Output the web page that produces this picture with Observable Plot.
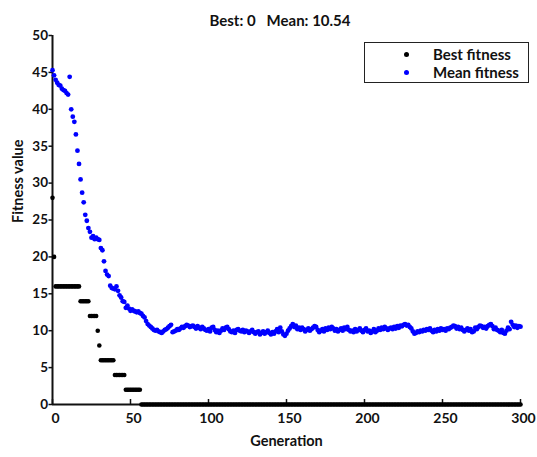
<!DOCTYPE html>
<html>
<head>
<meta charset="utf-8">
<script src="https://cdn.jsdelivr.net/npm/d3@7"></script>
<script src="https://cdn.jsdelivr.net/npm/@observablehq/plot@0.6"></script>
<style>
  html, body { margin: 0; padding: 0; background: #fff; }
  #wrap { position: relative; width: 537px; height: 457px; font-family: Lato, "Open Sans", sans-serif; font-weight: bold; }
  #title { position: absolute; top: 11px; left: 280px; transform: translateX(-50%); font-size: 15px; white-space: pre; color: #111; }
  #legend { position: absolute; left: 364px; top: 42px; width: 163px; height: 39px; border: 1.5px solid #222; background: #fff; font-size: 15px; }
  .row { position: absolute; left: 0; height: 18px; line-height: 18px; }
  .dot { position: absolute; left: 38.5px; width: 5px; height: 5px; border-radius: 50%; top: 6.5px; }
  .lab { position: absolute; left: 68px; white-space: nowrap; color: #111; }
</style>
</head>
<body>
<div id="wrap">
  <div id="chart"></div>
  <div id="title"></div>
  <div id="legend">
    <div class="row" style="top:2px"><span class="dot" style="background:#000"></span><span class="lab" id="l0"></span></div>
    <div class="row" style="top:20px"><span class="dot" style="background:#0000ff"></span><span class="lab" id="l1"></span></div>
  </div>
</div>
<script>
const titleText = "Best: 0   Mean: 10.54";
const seriesNames = ["Best fitness", "Mean fitness"];
const seriesColors = ["#000000", "#0000ff"];
const xLabel = "Generation";
const yLabel = "Fitness value";
const xTicks = [0, 50, 100, 150, 200, 250, 300];
const yTicks = [0, 5, 10, 15, 20, 25, 30, 35, 40, 45, 50];

// best fitness per generation (0..300), as runs of [fromGen, toGen, value]
const bestRuns = [
  [0, 0, 28], [1, 1, 20], [2, 17, 16], [18, 23, 14], [24, 28, 12],
  [29, 29, 10], [30, 30, 8], [31, 39, 6], [40, 46, 4], [47, 56, 2], [57, 300, 0]
];

// mean fitness per generation 0..300
const meanFitness = [
  45.3, 44.6, 44.0, 43.6, 43.3, 43.2, 42.8, 42.6, 42.5, 42.2,
  42.0, 44.4, 40.0, 39.0, 38.3, 36.6, 34.4, 32.6, 30.5, 28.7,
  27.4, 25.7, 24.9, 23.9, 23.4, 22.6, 22.8, 22.4, 22.6, 22.4,
  22.3, 21.2, 20.9, 19.4, 18.1, 17.6, 17.4, 16.1, 15.8, 15.7,
  15.6, 16.0, 15.4, 14.8, 14.5, 14.0, 13.9, 13.1, 13.4, 13.0,
  12.7, 12.9, 12.7, 12.6, 12.5, 12.6, 12.4, 12.3, 12.0, 11.8,
  11.3, 10.9, 10.7, 10.5, 10.3, 10.1, 10.0, 10.1, 9.9, 9.8,
  9.7, 9.9, 10.1, 10.2, 10.4, 10.6, 10.8, 9.8, 9.9, 10.0,
  10.2, 10.1, 10.3, 10.5, 10.4, 10.6, 10.8, 10.7, 10.5, 10.6,
  10.7, 10.5, 10.3, 10.6, 10.4, 10.2, 10.5, 10.3, 10.1, 10.0,
  10.2, 9.9, 10.4, 10.5, 10.1, 9.8, 10.0, 9.7, 10.0, 10.3,
  10.1, 10.4, 10.5, 10.2, 9.9, 9.8, 10.0, 9.7, 10.1, 10.2,
  10.0, 9.9, 10.1, 9.8, 10.0, 9.9, 9.7, 9.9, 10.1, 9.8,
  9.6, 9.8, 9.9, 9.5, 9.7, 9.9, 9.6, 9.8, 10.0, 9.7,
  9.5, 9.8, 9.6, 9.9, 10.2, 9.8, 10.4, 9.9, 9.5, 9.3,
  9.6, 10.0, 10.3, 10.6, 10.9, 10.5, 10.7, 10.2, 10.4, 10.1,
  10.4, 10.2, 9.9, 10.1, 10.3, 10.0, 10.2, 10.4, 10.6, 10.5,
  10.1, 9.8, 10.0, 10.2, 9.9, 10.3, 10.1, 10.4, 10.2, 10.5,
  10.3, 10.0, 10.2, 9.9, 10.1, 10.3, 10.0, 10.4, 10.2, 10.5,
  10.1, 9.9, 10.0, 9.8, 10.2, 9.9, 10.1, 10.3, 10.0, 9.8,
  10.1, 10.3, 9.9, 10.0, 9.7, 9.9, 10.2, 9.8, 10.0, 10.3,
  10.1, 10.4, 10.2, 10.5, 10.3, 10.1, 10.3, 10.4, 10.2, 10.5,
  10.3, 10.6, 10.4, 10.7, 10.6, 10.8, 10.9, 10.7, 10.8, 10.5,
  10.3, 9.9, 9.6, 9.7, 9.9, 9.8, 10.0, 9.9, 10.1, 10.0,
  10.2, 10.1, 10.3, 10.0, 9.8, 10.1, 9.9, 10.2, 10.0, 10.3,
  10.1, 10.2, 10.0, 10.3, 10.2, 10.4, 10.5, 10.7, 10.6, 10.3,
  10.5, 10.2, 10.4, 10.1, 9.9, 10.1, 10.3, 10.0, 10.2, 9.8,
  9.9, 10.4, 10.2, 10.5, 10.7, 10.6, 10.4, 10.5, 10.3, 10.6,
  10.8, 10.9, 10.6, 10.2, 10.4, 10.1, 10.0, 9.8, 10.1, 9.7,
  9.6, 10.0, 10.4, 10.2, 11.2, 10.8, 10.5, 10.7, 10.4, 10.6,
  10.54
];

const meanData = meanFitness.map((v, i) => ({gen: i, value: v}));
const bestData = [];
for (const [a, b, v] of bestRuns) for (let g = a; g <= b; g++) bestData.push({gen: g, value: v});

document.getElementById("title").textContent = titleText;
document.getElementById("l0").textContent = seriesNames[0];
document.getElementById("l1").textContent = seriesNames[1];

const chart = Plot.plot({
  width: 537,
  height: 457,
  marginLeft: 52,
  marginRight: 17,
  marginTop: 35,
  marginBottom: 53,
  style: {fontFamily: "Lato, 'Open Sans', sans-serif", fontSize: "13px", fontWeight: "bold", color: "#111", background: "transparent", overflow: "visible"},
  x: {domain: [0, 300]},
  y: {domain: [0, 50]},
  marks: [
    Plot.axisX({ticks: xTicks, tickSize: 0, tickPadding: 9, dx: 3, label: null, fontSize: 14}),
    Plot.axisX({ticks: xTicks, tickSize: 5, dy: -5, tickFormat: () => "", label: null, strokeWidth: 1.5}),
    Plot.axisY({ticks: yTicks, tickSize: 3.5, tickPadding: 1, label: null, fontSize: 13.5, strokeWidth: 1.5}),
    Plot.text([xLabel], {text: d => d, frameAnchor: "bottom", dy: 41, fontSize: 14.5, fontWeight: "bold", fill: "#111"}),
    Plot.text([yLabel], {text: d => d, frameAnchor: "left", rotate: -90, dx: -34, dy: 3, fontSize: 14.5, fontWeight: "bold", fill: "#111"}),
    Plot.ruleX([0], {strokeWidth: 2}),
    Plot.ruleY([0], {strokeWidth: 2}),
    Plot.dot(meanData, {x: "gen", y: "value", r: 2.4, fill: seriesColors[1], stroke: "none"}),
    Plot.dot(bestData, {x: "gen", y: "value", r: 2.3, fill: seriesColors[0], stroke: "none"})
  ]
});
document.getElementById("chart").appendChild(chart);
</script>
</body>
</html>
